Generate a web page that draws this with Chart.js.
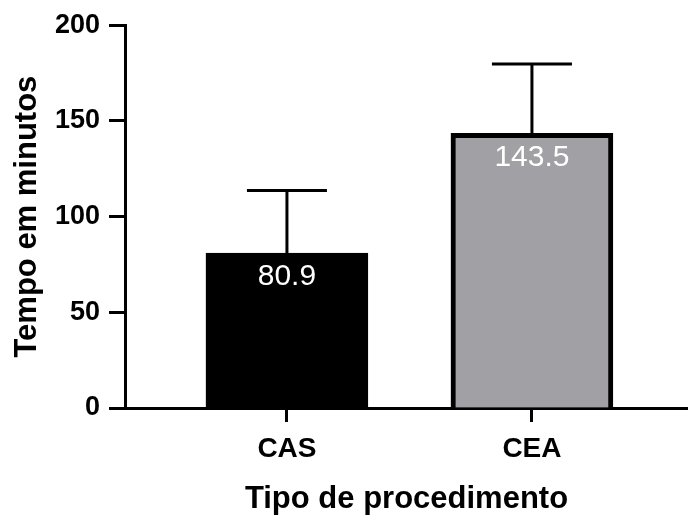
<!DOCTYPE html>
<html>
<head>
<meta charset="utf-8">
<script src="https://cdn.jsdelivr.net/npm/chart.js@4.4.1/dist/chart.umd.min.js"></script>
<style>
  html, body { margin: 0; padding: 0; background: #ffffff; }
  #wrap { width: 688px; height: 521px; }
</style>
</head>
<body>
<div id="wrap"><canvas id="c" width="688" height="521"></canvas></div>
<script>
// Procedure types and mean duration (minutes) with standard deviation
const categories = ['CAS', 'CEA'];
const means = [80.9, 143.5];
const sds = [32.7, 36.2];
const yTicks = [0, 50, 100, 150, 200];

const barFill = ['#000000', '#a1a1a5'];

// Whiskers: vertical line from the bar top up to mean + SD, with a cap
const errorBars = {
  id: 'errorBars',
  beforeDatasetsDraw(chart) {
    const { ctx, scales: { y } } = chart;
    const meta = chart.getDatasetMeta(0);
    ctx.save();
    ctx.strokeStyle = '#000';
    ctx.lineWidth = 3;
    meta.data.forEach((bar, i) => {
      const x = bar.x;
      const y0 = y.getPixelForValue(means[i]);
      const y1 = y.getPixelForValue(means[i] + sds[i]);
      ctx.beginPath();
      ctx.moveTo(x, y0);
      ctx.lineTo(x, y1);
      ctx.moveTo(x - 40, y1);
      ctx.lineTo(x + 40, y1);
      ctx.stroke();
    });
    ctx.restore();
  }
};

// Mean value printed inside each bar, just below its top
const valueLabels = {
  id: 'valueLabels',
  afterDatasetsDraw(chart) {
    const { ctx, scales: { y } } = chart;
    const meta = chart.getDatasetMeta(0);
    ctx.save();
    ctx.fillStyle = '#ffffff';
    ctx.font = '30px "Liberation Sans", Arial, sans-serif';
    ctx.textAlign = 'center';
    ctx.textBaseline = 'middle';
    meta.data.forEach((bar, i) => {
      ctx.fillText(means[i].toFixed(1), bar.x, y.getPixelForValue(means[i]) + 24);
    });
    ctx.restore();
  }
};

new Chart(document.getElementById('c'), {
  type: 'bar',
  data: {
    datasets: [{
      data: categories.map((c, i) => ({ x: i, y: means[i] })),
      backgroundColor: barFill,
      borderColor: '#000000',
      borderWidth: 5,
      barThickness: 162,
      grouped: false
    }]
  },
  options: {
    responsive: false,
    animation: false,
    layout: { padding: { top: 24, right: 0, left: 0, bottom: 0 } },
    plugins: { legend: { display: false }, tooltip: { enabled: false } },
    scales: {
      x: {
        type: 'linear',
        offset: false,
        min: -0.661,
        max: 1.637,
        afterBuildTicks(scale) { scale.ticks = categories.map((c, i) => ({ value: i })); },
        afterFit(scale) { scale.height = 113; },
        ticks: {
          callback: (v) => categories[v],
          color: '#000',
          font: { family: '"Liberation Sans", Arial, sans-serif', size: 28, weight: 'bold' },
          padding: 10,
          maxRotation: 0
        },
        grid: { offset: false, drawOnChartArea: false, tickLength: 14, tickWidth: 3, tickColor: '#000' },
        border: { color: '#000', width: 3 },
        title: {
          display: true,
          text: 'Tipo de procedimento',
          color: '#000',
          font: { family: '"Liberation Sans", Arial, sans-serif', size: 31, weight: 'bold' },
          padding: { top: 0, bottom: 3 }
        }
      },
      y: {
        min: 0,
        max: 200,
        afterBuildTicks(scale) { scale.ticks = yTicks.map(v => ({ value: v })); },
        afterFit(scale) { scale.width = 125; },
        ticks: {
          color: '#000',
          font: { family: '"Liberation Sans", Arial, sans-serif', size: 27, weight: 'bold' },
          padding: 9
        },
        grid: { drawOnChartArea: false, tickLength: 16, tickWidth: 3, tickColor: '#000' },
        border: { color: '#000', width: 3 },
        title: {
          display: true,
          text: 'Tempo em minutos',
          color: '#000',
          font: { family: '"Liberation Sans", Arial, sans-serif', size: 31, weight: 'bold' },
          padding: { top: 9, bottom: 0 }
        }
      }
    }
  },
  plugins: [errorBars, valueLabels]
});
</script>
</body>
</html>
